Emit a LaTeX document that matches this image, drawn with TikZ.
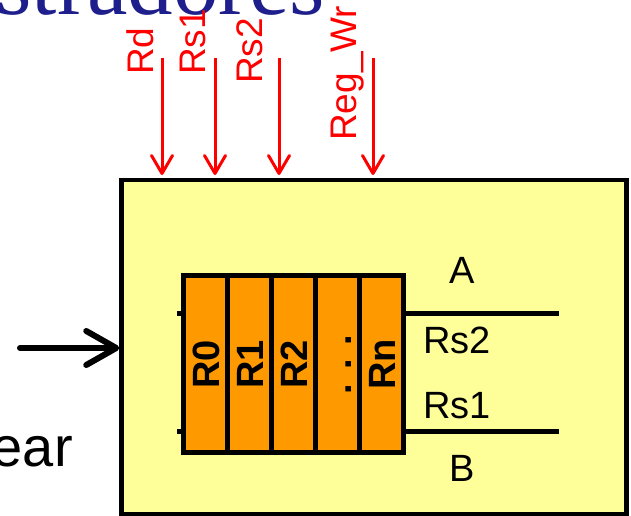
\documentclass[tikz,border=0pt]{standalone}
\usepackage{fontspec}
\setmainfont{Liberation Sans}
\newfontfamily\titlefont{Liberation Serif}
\usetikzlibrary{arrows.meta}
\definecolor{regyellow}{HTML}{FFFF99}
\definecolor{regorange}{HTML}{FF9900}
\definecolor{titleblue}{RGB}{30,30,140}
\definecolor{sigred}{HTML}{FF0000}
\begin{document}
\begin{tikzpicture}[x=1pt,y=-1pt,
  sigarrow/.style={draw=sigred, line width=3pt, -{Straight Barb[length=18pt,width=21pt,round]}},
  siglabel/.style={text=sigred, font=\fontsize{37}{40}\selectfont, rotate=90, anchor=base west, inner sep=0pt},
  regcell/.style={draw=black, fill=regorange, line width=5pt, minimum width=44.1pt, minimum height=177.5pt, inner sep=0pt},
  reglabel/.style={font=\bfseries\fontsize{38}{40}\selectfont, rotate=90, anchor=base, inner sep=0pt},
  portlabel/.style={font=\fontsize{38}{40}\selectfont, inner sep=0pt},
  busline/.style={draw=black, line width=5pt},
]
\useasboundingbox (0,0) rectangle (631,516);
\clip (0,0) rectangle (631,516);

% title (cut off)
\node[font=\titlefont\fontsize{91}{95}\selectfont, text=titleblue, anchor=base east, inner sep=0pt] (title) at (325,14.5) {Registradores};

% left text
\node[font=\fontsize{56}{60}\selectfont, anchor=base east, inner sep=0pt] (ear) at (73,466) {ear};

% main box
\node[draw=black, fill=regyellow, line width=4.5pt, minimum width=505pt, minimum height=334pt, inner sep=0pt] (rf) at (374,347) {};

% input arrow
\coordinate (inS) at (20,348);
\draw[line width=6pt, line cap=round, -{Straight Barb[length=30pt,width=34pt,round]}] (inS) -- (rf.west |- inS);

% bus lines (behind registers)
\coordinate (aL) at (177,313);
\coordinate (aR) at (559,313);
\coordinate (bL) at (177,431);
\coordinate (bR) at (559,431);
\draw[busline] (aL) -- (aR);
\draw[busline] (bL) -- (bR);

% registers
\foreach \i/\t in {0/R0,1/R1,2/R2,3/{. . .},4/Rn}{
  \node[regcell] (reg\i) at ({205.05+44.1*\i},363.75) {};
  \node[reglabel] (regl\i) at ({205.05+44.1*\i+14.5},364.5) {\t};
}

% port labels
\node[portlabel, anchor=base] (lblA) at (462,283) {A};
\node[portlabel, anchor=base west] (lblRs2) at (423,353) {Rs2};
\node[portlabel, anchor=base west] (lblRs1) at (423,418) {Rs1};
\node[portlabel, anchor=base] (lblB) at (462,481) {B};

% control signals
\node[siglabel] (sRd) at (153,75) {Rd};
\node[siglabel] (sRs1) at (205,75) {Rs1};
\node[siglabel] (sRs2) at (262,84) {Rs2};
\node[siglabel] (sWr) at (356,141) {Reg\_Wr};

\foreach \n/\x in {rd/162,rsa/215,rsb/279,wr/373}{
  \coordinate (\n S) at (\x,58);
  \coordinate (\n E) at (\x,175);
  \draw[sigarrow] (\n S) -- (\n E);
}
\end{tikzpicture}
\end{document}
